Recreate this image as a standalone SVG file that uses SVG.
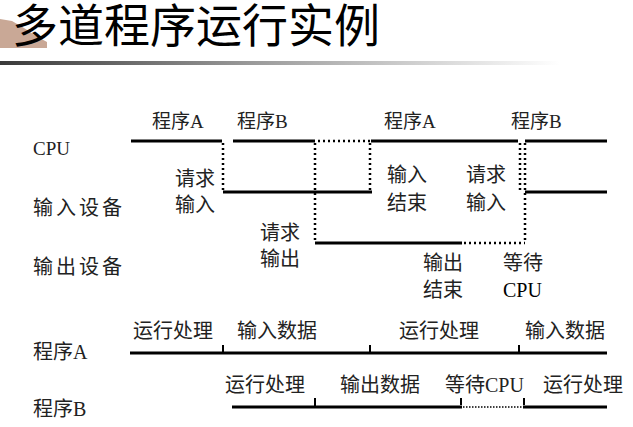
<svg xmlns="http://www.w3.org/2000/svg" width="633" height="427" viewBox="0 0 633 427">
<defs>
<linearGradient id="rule" x1="0" y1="0" x2="1" y2="0">
<stop offset="0" stop-color="#3a3a3a"/>
<stop offset="0.45" stop-color="#9a9a9a"/>
<stop offset="1" stop-color="#ffffff"/>
</linearGradient>
</defs>
<style>
text{font-family:"Liberation Serif","Noto Sans CJK SC",serif;fill:#222}
.t{font-size:46px;fill:#000}
.lab{font-size:20px}
.sm{font-size:19px}
.solid{stroke:#000;stroke-width:3;fill:none}
.dot{stroke:#000;stroke-width:2.5;fill:none;stroke-dasharray:2 3}
.thin{stroke:#000;stroke-width:1.5;fill:none;stroke-dasharray:1.5 1.5}
.tick{stroke:#000;stroke-width:2;fill:none}
</style>
<rect width="633" height="427" fill="#fff"/>
<g id="title">
<polygon points="0,19 12,21 24,28 36,36 47,42 47,48 0,48" fill="#c9a896"/>
<text class="t" x="12" y="42">多道程序运行实例</text>
<rect x="0" y="61" width="560" height="4" fill="url(#rule)"/>
</g>
<g id="lane-labels">
<text class="sm" x="33" y="155">CPU</text>
<text class="lab" x="33" y="215" letter-spacing="3">输入设备</text>
<text class="lab" x="33" y="274" letter-spacing="3">输出设备</text>
<text class="lab" x="33" y="359">程序A</text>
<text class="lab" x="33" y="416">程序B</text>
</g>
<g id="connectors">
<line class="solid" x1="131" y1="141" x2="222" y2="141"/>
<line class="solid" x1="233" y1="141" x2="315" y2="141"/>
<line class="dot" x1="318" y1="141" x2="370" y2="141"/>
<line class="solid" x1="371" y1="141" x2="518" y2="141"/>
<line class="solid" x1="525" y1="141" x2="607" y2="141"/>
<line class="dot" x1="223" y1="143" x2="223" y2="191"/>
<line class="dot" x1="315" y1="143" x2="315" y2="242"/>
<line class="dot" x1="370" y1="143" x2="370" y2="191"/>
<line class="dot" x1="520" y1="143" x2="520" y2="191"/>
<line class="dot" x1="525" y1="143" x2="525" y2="242"/>
<line class="solid" x1="223" y1="192" x2="372" y2="192"/>
<line class="solid" x1="525" y1="192" x2="607" y2="192"/>
<line class="solid" x1="315" y1="243" x2="462" y2="243"/>
<line class="dot" x1="464" y1="243" x2="525" y2="243"/>
<line class="solid" x1="130" y1="353" x2="607" y2="353"/>
<line class="tick" x1="223" y1="345" x2="223" y2="353"/>
<line class="tick" x1="370" y1="345" x2="370" y2="353"/>
<line class="tick" x1="519" y1="345" x2="519" y2="353"/>
<line class="solid" x1="232" y1="407" x2="462" y2="407"/>
<line class="tick" x1="315" y1="398" x2="315" y2="407"/>
<path class="tick" d="M461,398 V405"/>
<line class="thin" x1="463" y1="407" x2="523" y2="407"/>
<path class="tick" d="M524,398 V405"/>
<line class="solid" x1="523" y1="407" x2="607" y2="407"/>
</g>
<g id="cpu-annotations">
<text class="sm" x="152" y="128">程序A</text>
<text class="sm" x="237" y="128">程序B</text>
<text class="sm" x="384" y="128">程序A</text>
<text class="sm" x="511" y="128">程序B</text>
</g>
<g id="event-annotations">
<text class="lab" x="175" y="186">请求</text>
<text class="lab" x="175" y="212">输入</text>
<text class="lab" x="260" y="240">请求</text>
<text class="lab" x="260" y="266">输出</text>
<text class="lab" x="387" y="182">输入</text>
<text class="lab" x="387" y="210">结束</text>
<text class="lab" x="466" y="182">请求</text>
<text class="lab" x="466" y="210">输入</text>
<text class="lab" x="423" y="270">输出</text>
<text class="lab" x="423" y="297">结束</text>
<text class="lab" x="503" y="270">等待</text>
<text class="lab" x="503" y="297" style="fill:#000">CPU</text>
</g>
<g id="program-annotations">
<text class="lab" x="133" y="338">运行处理</text>
<text class="lab" x="237" y="338">输入数据</text>
<text class="lab" x="399" y="338">运行处理</text>
<text class="lab" x="525" y="338">输入数据</text>
<text class="lab" x="225" y="392">运行处理</text>
<text class="lab" x="340" y="392">输出数据</text>
<text class="lab" x="445" y="392">等待CPU</text>
<text class="lab" x="543" y="392">运行处理</text>
</g>
</svg>
